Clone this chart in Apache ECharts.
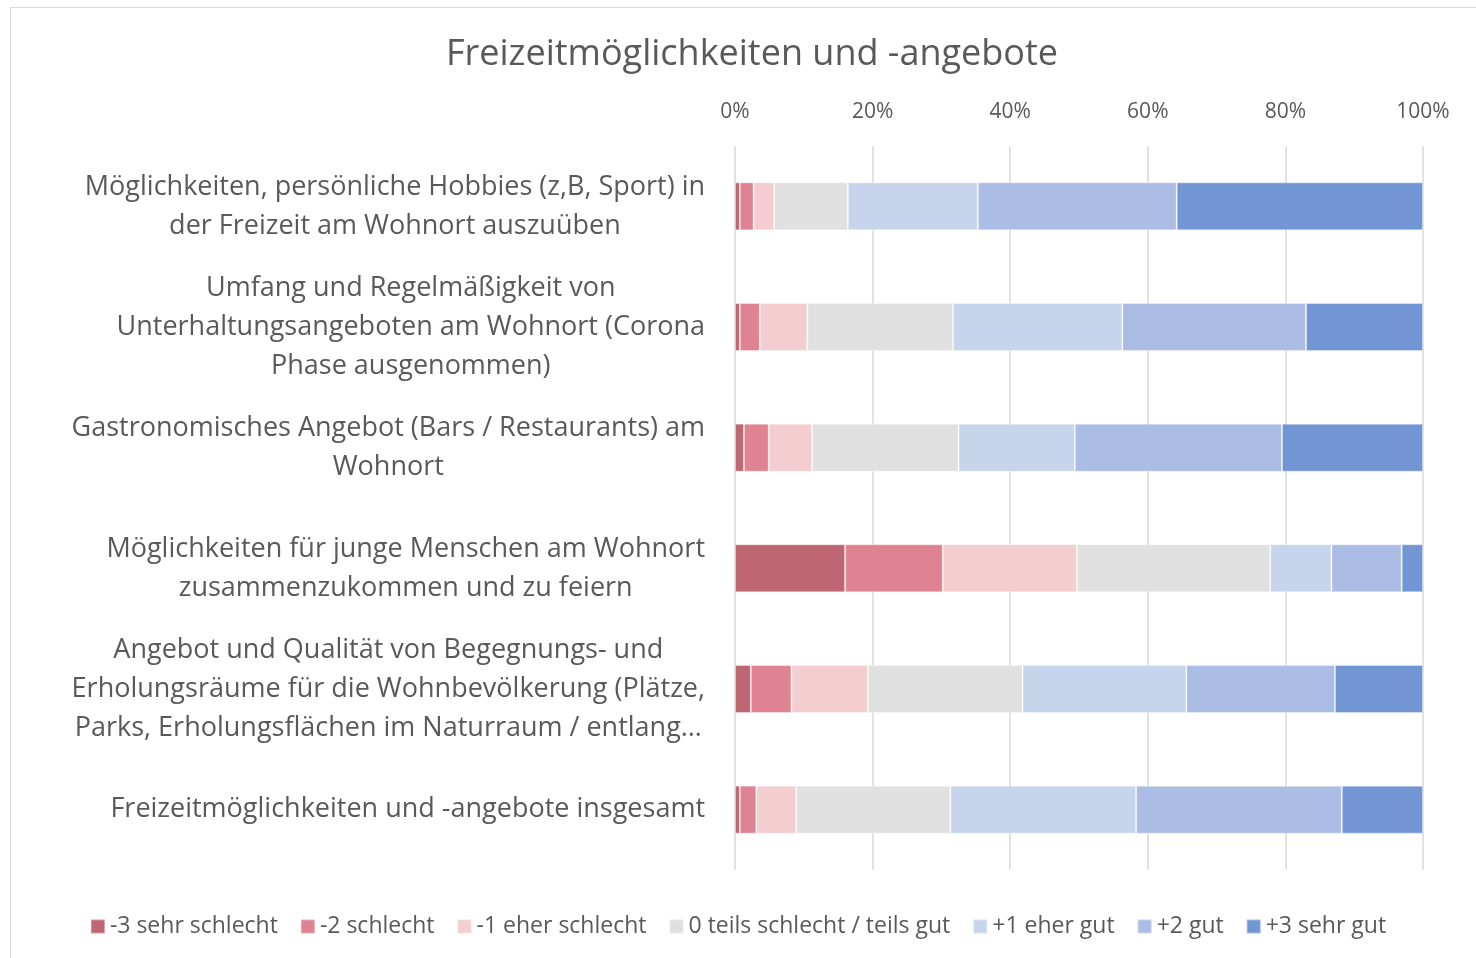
<!DOCTYPE html>
<html>
<head>
<meta charset="utf-8">
<script src="https://cdn.jsdelivr.net/npm/echarts@6/dist/echarts.min.js"></script>
<style>
  html, body { margin: 0; padding: 0; background: #fff; }
  #bar_chart { width: 1476px; height: 958px; }
</style>
</head>
<body>
<div id="bar_chart"></div>
<script>
// categories, top to bottom
var categories = [
    'Möglichkeiten, persönliche Hobbies (z,B, Sport) in\nder Freizeit am Wohnort auszuüben',
    'Umfang und Regelmäßigkeit von\nUnterhaltungsangeboten am Wohnort (Corona\nPhase ausgenommen)',
    'Gastronomisches Angebot (Bars / Restaurants) am\nWohnort',
    'Möglichkeiten für junge Menschen am Wohnort\nzusammenzukommen und zu feiern',
    'Angebot und Qualität von Begegnungs- und\nErholungsräume für die Wohnbevölkerung (Plätze,\nParks, Erholungsflächen im Naturraum / entlang…',
    'Freizeitmöglichkeiten und -angebote insgesamt'
];
var seriesNames = ['-3 sehr schlecht', '-2 schlecht', '-1 eher schlecht', '0 teils schlecht / teils gut', '+1 eher gut', '+2 gut', '+3 sehr gut'];
var seriesColors = ['#be6671', '#df8393', '#f3cdcf', '#e0e0e0', '#c7d5ec', '#abbde4', '#7296d3'];

// shares in percent, one array per answer
var sehrSchlecht  = [0.7, 0.7, 1.3, 16.0, 2.3, 0.7];
var schlecht      = [2.0, 2.9, 3.6, 14.2, 5.9, 2.4];
var eherSchlecht  = [3.0, 6.9, 6.3, 19.5, 11.1, 5.8];
var teilsTeils    = [10.7, 21.2, 21.3, 28.1, 22.5, 22.4];
var eherGut       = [18.9, 24.6, 16.9, 8.9, 23.8, 27.0];
var gut           = [28.9, 26.7, 30.1, 10.2, 21.6, 29.9];
var sehrGut       = [35.8, 17.0, 20.5, 3.1, 12.8, 11.8];
var seriesData = [sehrSchlecht, schlecht, eherSchlecht, teilsTeils, eherGut, gut, sehrGut];

var axisTicks = [0, 20, 40, 60, 80, 100];

var textColor = '#595959';
var fontFam = '"Open Sans", Roboto, sans-serif';

var myChart = echarts.init(document.getElementById('bar_chart'));

var series = seriesNames.map(function (name, i) {
    return {
        name: name,
        type: 'bar',
        stack: 'total',
        barWidth: 48,
        itemStyle: {
            color: seriesColors[i],
            borderColor: 'rgba(255,255,255,0.35)',
            borderWidth: 1
        },
        emphasis: { disabled: true },
        data: seriesData[i]
    };
});

option = {
    backgroundColor: '#fff',
    animation: false,
    textStyle: { fontFamily: fontFam },
    title: {
        text: 'Freizeitmöglichkeiten und -angebote',
        left: 747,
        textAlign: 'center',
        top: 32,
        textStyle: {
            color: textColor,
            fontSize: 36,
            fontWeight: 'normal',
            fontFamily: fontFam
        }
    },
    graphic: [{
        type: 'rect',
        shape: { x: 10.5, y: 7.5, width: 1500, height: 1000 },
        style: { fill: 'none', stroke: '#d9d9d9', lineWidth: 1 },
        silent: true
    }],
    legend: {
        data: seriesNames,
        top: 910,
        left: 'center',
        itemWidth: 14,
        itemHeight: 14,
        itemGap: 22,
        icon: 'rect',
        textStyle: { color: textColor, fontSize: 23, fontFamily: fontFam }
    },
    grid: {
        left: 735,
        right: 53,
        top: 146,
        bottom: 88,
        containLabel: false
    },
    xAxis: {
        type: 'value',
        position: 'top',
        min: axisTicks[0],
        max: axisTicks[axisTicks.length - 1],
        interval: axisTicks[1] - axisTicks[0],
        axisLine: { show: false },
        axisTick: { show: false },
        axisLabel: {
            formatter: '{value}%',
            color: textColor,
            fontSize: 21,
            margin: 23,
            fontFamily: fontFam
        },
        splitLine: { lineStyle: { color: '#d9d9d9', width: 1.5 } }
    },
    yAxis: {
        type: 'category',
        inverse: true,
        data: categories,
        axisLine: { show: false },
        axisTick: { show: false },
        axisLabel: {
            margin: 30,
            align: 'right',
            color: textColor,
            fontSize: 27,
            lineHeight: 39,
            fontFamily: fontFam,
            formatter: function (v) {
                return v.split('\n').map(function (l) { return '{c|' + l + '}'; }).join('\n');
            },
            rich: {
                c: {
                    align: 'center',
                    color: textColor,
                    fontSize: 27,
                    lineHeight: 39,
                    fontFamily: fontFam
                }
            }
        }
    },
    series: series
};
myChart.setOption(option);
</script>
</body>
</html>
